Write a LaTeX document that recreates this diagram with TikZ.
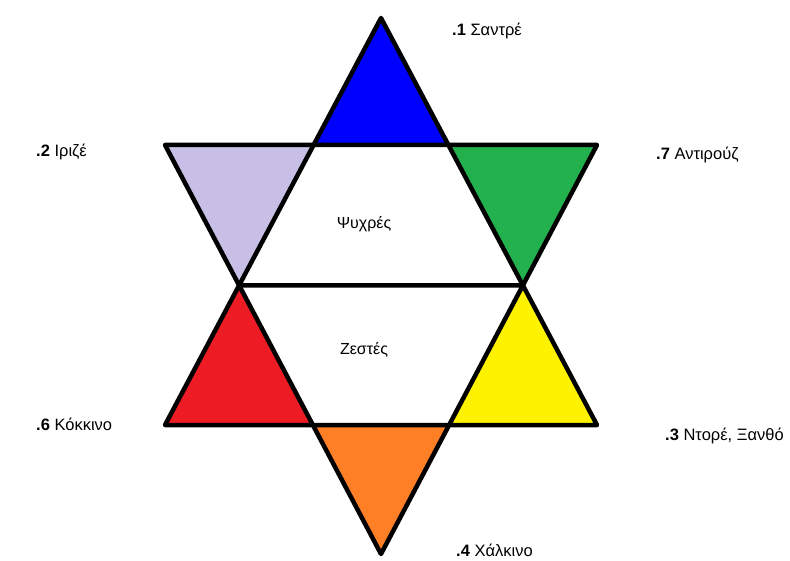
\documentclass[tikz,border=0pt]{standalone}
\usepackage{fontspec}
\setmainfont{Liberation Sans}
\definecolor{cblue}{RGB}{0,0,255}
\definecolor{clav}{RGB}{200,191,231}
\definecolor{cgreen}{RGB}{34,177,76}
\definecolor{cred}{RGB}{237,28,36}
\definecolor{cyellow}{RGB}{255,242,0}
\definecolor{corange}{RGB}{255,127,39}
\begin{document}
\begin{tikzpicture}[x=1pt,y=-1pt,
  edge/.style={draw=black,line width=4.5pt,line join=round},
  lbl/.style={anchor=base west,font=\fontsize{16.5}{19}\selectfont,inner sep=0pt},
  ctr/.style={anchor=base,font=\fontsize{16}{19}\selectfont,inner sep=0pt}]
\useasboundingbox (0,0) rectangle (790,561);
\coordinate (T) at (381,18);
\coordinate (UL) at (165,425);
\coordinate (UR) at (597,425);
\coordinate (DL) at (165,145);
\coordinate (DR) at (597,145);
\coordinate (B) at (381,554);
\coordinate (P1) at (intersection of T--UL and DL--DR);
\coordinate (P2) at (intersection of T--UR and DL--DR);
\coordinate (M1) at (intersection of T--UL and DL--B);
\coordinate (M2) at (intersection of T--UR and DR--B);
\coordinate (Q1) at (intersection of DL--B and UL--UR);
\coordinate (Q2) at (intersection of DR--B and UL--UR);
% coloured points of the star
\fill[cblue] (T) -- (P1) -- (P2) -- cycle;
\fill[clav] (DL) -- (P1) -- (M1) -- cycle;
\fill[cgreen] (DR) -- (P2) -- (M2) -- cycle;
\fill[cred] (UL) -- (M1) -- (Q1) -- cycle;
\fill[cyellow] (UR) -- (M2) -- (Q2) -- cycle;
\fill[corange] (B) -- (Q1) -- (Q2) -- cycle;
% outlines
\draw[edge] (T) -- (UL) -- (UR) -- cycle;
\draw[edge] (DL) -- (DR) -- (B) -- cycle;
\draw[edge] (M1) -- (M2);
% centre texts
\node[ctr] (cold) at (364,229) {Ψυχρές};
\node[ctr] (warm) at (364,355) {Ζεστές};
% labels
\node[lbl] (l1) at (452,36) {\textbf{.1} Σαντρέ};
\node[lbl] (l2) at (36,157) {\textbf{.2} Ιριζέ};
\node[lbl] (l7) at (656,160) {\textbf{.7} Αντιρούζ};
\node[lbl] (l6) at (36,430) {\textbf{.6} Κόκκινο};
\node[lbl] (l3) at (665,440) {\textbf{.3} Ντορέ, Ξανθό};
\node[lbl] (l4) at (456,556) {\textbf{.4} Χάλκινο};
\end{tikzpicture}
\end{document}
